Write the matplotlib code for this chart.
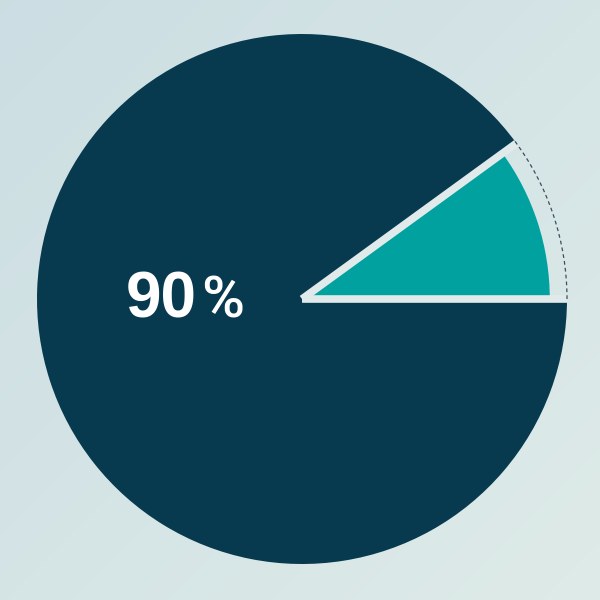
import numpy as np
import matplotlib.pyplot as plt
from matplotlib.patches import Arc

# data
categories = ["Other", "Main"]
shares = [10, 90]
label_value = "90"
label_unit = "%"

DARK = "#083a4f"
TEAL = "#00a19f"
GAP = "#e0eaea"

fig = plt.figure(figsize=(6, 6), dpi=100)
ax = fig.add_axes([0, 0, 1, 1])

# background gradient
yy, xx = np.mgrid[0:1:200j, 0:1:200j]
t = (xx + (1 - yy)) / 2
c0 = np.array([0.80, 0.87, 0.89])
c1 = np.array([0.87, 0.92, 0.91])
img = c0[None, None, :] * (1 - t[..., None]) + c1[None, None, :] * t[..., None]
ax.imshow(img, extent=[0, 600, 0, 600], origin="lower", zorder=0, aspect="auto")

cx, cy, R = 302, 301, 265

# full pie: first slice empty, second dark
ax.pie(shares, colors=["none", DARK], startangle=0, counterclock=True,
       center=(cx, cy), radius=R, frame=True, wedgeprops=dict(linewidth=0))

# inset teal slice (smaller radius)
wedges, _ = ax.pie(shares, colors=[TEAL, "none"], startangle=0,
                   counterclock=True, center=(cx, cy), radius=R * 0.935, frame=True,
                   wedgeprops=dict(linewidth=0))
wedges[1].set_visible(False)

# gap lines along slice boundaries (drawn over both slices)
ang = np.deg2rad(360 * shares[0] / sum(shares))
for a in [0, ang]:
    ax.plot([cx, cx + R * np.cos(a)], [cy, cy + R * np.sin(a)],
            color=GAP, lw=5.5, solid_capstyle="butt", zorder=5)

# dashed arc at full radius over small slice
arc = Arc((cx, cy), 2 * R, 2 * R, theta1=0, theta2=np.rad2deg(ang) + 1,
          color="#3c4f5c", lw=0.9, linestyle=(0, (3, 2.5)), zorder=6)
ax.add_patch(arc)

ax.set_xlim(0, 600)
ax.set_ylim(0, 600)
ax.set_aspect("equal")
ax.axis("off")

ax.text(197, 282, label_value, color="white", fontsize=46, ha="right", va="baseline",
        family="Liberation Sans", fontweight="bold", zorder=7)
ax.text(201, 282, label_unit, color="white", fontsize=42, ha="left", va="baseline",
        family="Roboto", fontweight="medium", zorder=7)

fig.savefig("out.png", dpi=100)
